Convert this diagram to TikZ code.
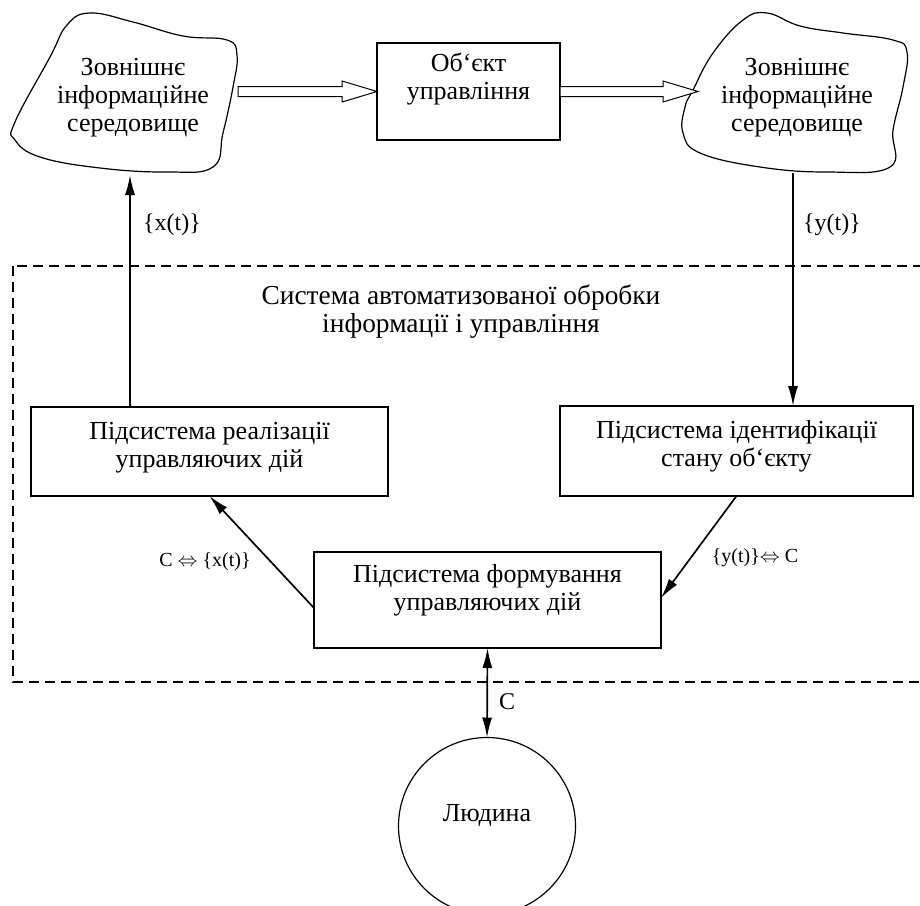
\documentclass[tikz,border=0pt]{standalone}
\usepackage{fontspec}
\setmainfont{Liberation Serif}
\usetikzlibrary{arrows.meta,calc}
\newcommand\hollowarr[2]{%
  \draw[hollow] ($(#1)+(0,-5)$) -- ($(#2)+(-35,-5)$) -- ($(#2)+(-35,-10.5)$) -- (#2)
    -- ($(#2)+(-35,10.5)$) -- ($(#2)+(-35,5)$) -- ($(#1)+(0,5)$) -- cycle;}
\begin{document}
\begin{tikzpicture}[x=0.5pt,y=-0.5pt,
  every node/.style={font=\fontsize{13}{14}\selectfont, align=center},
  boxnode/.style={draw, line width=0.6pt, inner sep=0pt, outer sep=0pt},
  arr/.style={line width=0.85pt, -{Latex[length=10pt,width=5pt]}},
  darr/.style={line width=0.85pt, {Latex[length=10pt,width=5pt]}-{Latex[length=10pt,width=5pt]}},
  lbl/.style={font=\fontsize{12}{14}\selectfont},
  slbl/.style={font=\fontsize{10}{12}\selectfont},
  hollow/.style={line width=0.5pt, fill=white},
  cloud/.style={line width=0.6pt}
]
\useasboundingbox (0,0) rectangle (920,905);
\clip (0,0) rectangle (920,905);

% system boundary
\draw[dashed, line width=0.6pt, dash pattern=on 5pt off 3pt] (13,266) rectangle (940,682);

% clouds
\draw[cloud] plot[smooth cycle, tension=0.7] coordinates {
  (15,122) (50,57) (67,25) (90,13) (133,22) (183,36) (227,40) (237,55)
  (233,87) (223,133) (213,167) (167,172) (100,168) (40,157) (15,140)};
\draw[cloud] plot[smooth cycle, tension=0.7] coordinates {
  (693,90) (713,53) (743,20) (767,13) (800,26) (843,33) (893,40) (907,52)
  (903,87) (893,130) (890,167) (827,172) (760,167) (700,153) (683,133) (685,107)};
\node (envL) at (133,98) {Зовнішнє\\інформаційне\\середовище};
\node (envR) at (797,98) {Зовнішнє\\інформаційне\\середовище};
\coordinate (cLr) at (238,91.5);
\coordinate (cLb) at (130,175);
\coordinate (cRl) at (698,91.5);
\coordinate (cRb) at (793,173);

% object
\node[boxnode, minimum width=91.5pt, minimum height=48.5pt] (obj) at (468.5,91.5) {};
\node (objt) at (468.5,79) {Об‘єкт\\управління};

\hollowarr{cLr}{obj.west}
\hollowarr{obj.east}{cRl}

% title
\node[font=\fontsize{13.7}{14}\selectfont] (title) at (461,312) {Система автоматизованої обробки\\інформації і управління};

% subsystems
\node[boxnode, minimum width=178.5pt, minimum height=44.5pt] (ls) at (209.5,451.5) {};
\node (lst) at (209.5,448) {Підсистема реалізації\\управляючих дій};
\node[boxnode, minimum width=176.5pt, minimum height=45pt] (rs) at (736.5,451) {};
\node (rst) at (736.5,446) {Підсистема ідентифікації\\стану об‘єкту};
\node[boxnode, minimum width=173.5pt, minimum height=48pt] (ms) at (487.5,600) {};
\node (mst) at (487.5,590) {Підсистема формування\\управляючих дій};

% human
\node[draw, circle, line width=0.6pt, minimum size=88.5pt, inner sep=0pt, outer sep=0pt] (hum) at (487,826) {};
\node (humt) at (487,815) {Людина};

% connectors
\draw[arr] (ls.north -| cLb) -- (cLb);
\draw[arr] (cRb) -- (rs.north -| cRb);
\draw[arr] ($(ms.west)+(0,8)$) -- (ls.south);
\draw[arr] (rs.south) -- ($(ms.east)+(0,-2)$);
\draw[darr] (ms.south) -- (hum.north);

% labels
\node[lbl] (lx) at (172,225) {\{x(t)\}};
\node[lbl] (ly) at (832,225) {\{y(t)\}};
\node[slbl] (lcx) at (205,562) {C $\Leftrightarrow$ \{x(t)\}};
\node[slbl] (lyc) at (755,558) {\{y(t)\}$\Leftrightarrow$ C};
\node[lbl] (lc) at (507,702) {C};
\end{tikzpicture}
\end{document}
